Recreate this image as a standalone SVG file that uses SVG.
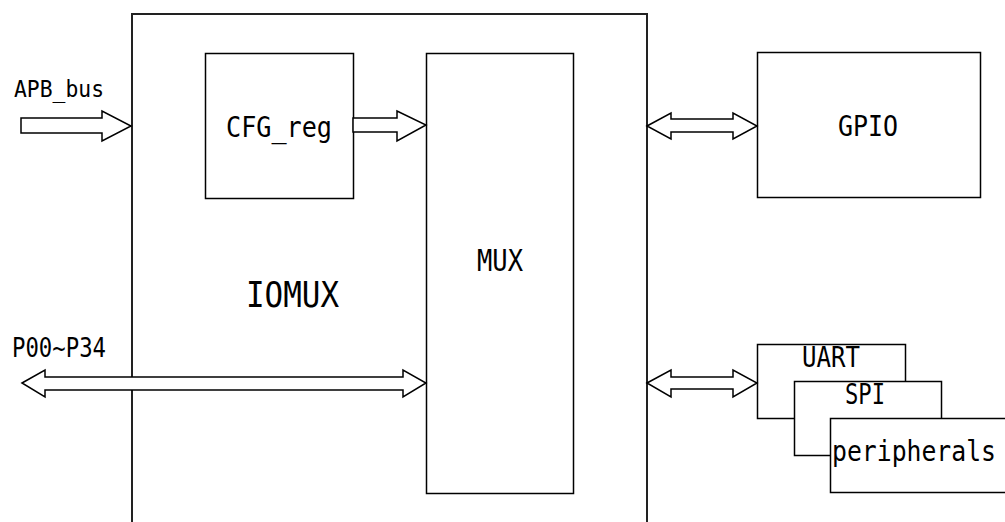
<svg xmlns="http://www.w3.org/2000/svg" width="1005" height="522" viewBox="0 0 1005 522">
<style>
.box{fill:#fff;stroke:#000;stroke-width:1.5}
.big{fill:#fff;stroke:#222;stroke-width:2}
.arr{fill:#fff;stroke:#000;stroke-width:1.5;stroke-linejoin:miter}
text{font-family:"DejaVu Sans Mono","Liberation Mono",monospace;fill:#000}
</style>
<rect width="1005" height="522" fill="#fff"/>
<g id="iomux">
<rect class="big" x="132" y="14" width="515" height="530"/>
<text x="246" y="307" font-size="36" textLength="93" lengthAdjust="spacingAndGlyphs">IOMUX</text>
</g>
<g id="cfg_reg">
<rect class="box" x="205.5" y="53.5" width="148" height="145"/>
<text x="226" y="137" font-size="28" textLength="106" lengthAdjust="spacingAndGlyphs">CFG_reg</text>
</g>
<g id="mux">
<rect class="box" x="426.5" y="53.5" width="147" height="440"/>
<text x="477" y="271" font-size="30" textLength="46" lengthAdjust="spacingAndGlyphs">MUX</text>
</g>
<g id="gpio">
<rect class="box" x="757.5" y="52.5" width="223" height="145"/>
<text x="838" y="136" font-size="29" textLength="60" lengthAdjust="spacingAndGlyphs">GPIO</text>
</g>
<g id="uart">
<rect class="box" x="757.5" y="344.5" width="148" height="74"/>
<text x="802" y="367" font-size="28" textLength="58" lengthAdjust="spacingAndGlyphs">UART</text>
</g>
<g id="spi">
<rect class="box" x="794.5" y="381.5" width="147" height="74"/>
<text x="845" y="404" font-size="28" textLength="40" lengthAdjust="spacingAndGlyphs">SPI</text>
</g>
<g id="peripherals">
<rect class="box" x="830.5" y="418.5" width="185" height="74"/>
<text x="832" y="461" font-size="28" textLength="164" lengthAdjust="spacingAndGlyphs">peripherals</text>
</g>
<g id="labels">
<text x="14" y="97" font-size="23" textLength="90" lengthAdjust="spacingAndGlyphs">APB_bus</text>
<text x="12" y="357" font-size="26" textLength="94" lengthAdjust="spacingAndGlyphs">P00~P34</text>
</g>
<g id="connectors">
<polygon class="arr" points="21,118 102,118 102,111 131,126 102,141 102,133 21,133"/>
<polygon class="arr" points="353,118 397,118 397,111 426,125 397,141 397,132 353,132"/>
<polygon class="arr" points="647,126 671,113 671,119 733,119 733,113 757,126 733,139 733,132 671,132 671,139"/>
<polygon class="arr" points="22,383 45,370 45,377 403,377 403,370 426,383 403,397 403,390 45,390 45,397"/>
<polygon class="arr" points="647,383 671,370 671,377 733,377 733,370 757,383 733,397 733,389 671,389 671,397"/>
</g>
</svg>
